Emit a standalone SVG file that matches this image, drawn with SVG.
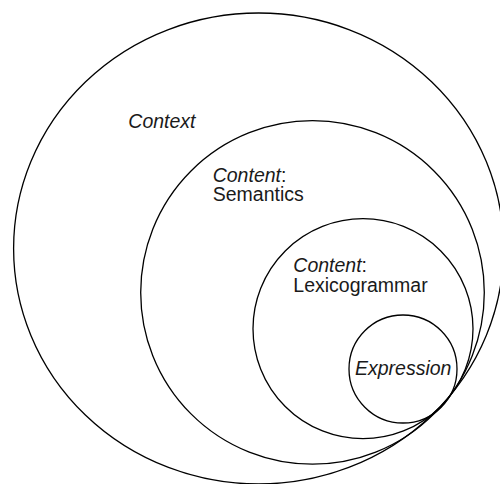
<svg xmlns="http://www.w3.org/2000/svg" width="500" height="484" viewBox="0 0 500 484">
  <style>
    .ring { fill: none; stroke: #000; stroke-width: 1.3; }
    .label { font-family: "Liberation Sans", Arial, sans-serif; font-size: 19.5px; fill: #1a1a1a; }
    .it { font-style: italic; }
  </style>
  <rect width="500" height="484" fill="#fff"/>

  <!-- Outermost stratum -->
  <g id="context">
    <ellipse class="ring" cx="258.6" cy="248.5" rx="245" ry="235.5"/>
    <text class="label it" x="128.3" y="128.3">Context</text>
  </g>

  <!-- Content plane: semantics -->
  <g id="semantics">
    <circle class="ring" cx="312.5" cy="292.4" r="171.8"/>
    <text class="label" x="212.7" y="181.7"><tspan class="it">Content</tspan>:<tspan x="212.7" dy="19.3">Semantics</tspan></text>
  </g>

  <!-- Content plane: lexicogrammar -->
  <g id="lexicogrammar">
    <circle class="ring" cx="363" cy="328.7" r="110"/>
    <text class="label" x="293.3" y="271.7"><tspan class="it">Content</tspan>:<tspan x="293.3" dy="20">Lexicogrammar</tspan></text>
  </g>

  <!-- Expression plane -->
  <g id="expression">
    <circle class="ring" cx="403" cy="369" r="54"/>
    <text class="label it" x="355" y="375">Expression</text>
  </g>
</svg>
